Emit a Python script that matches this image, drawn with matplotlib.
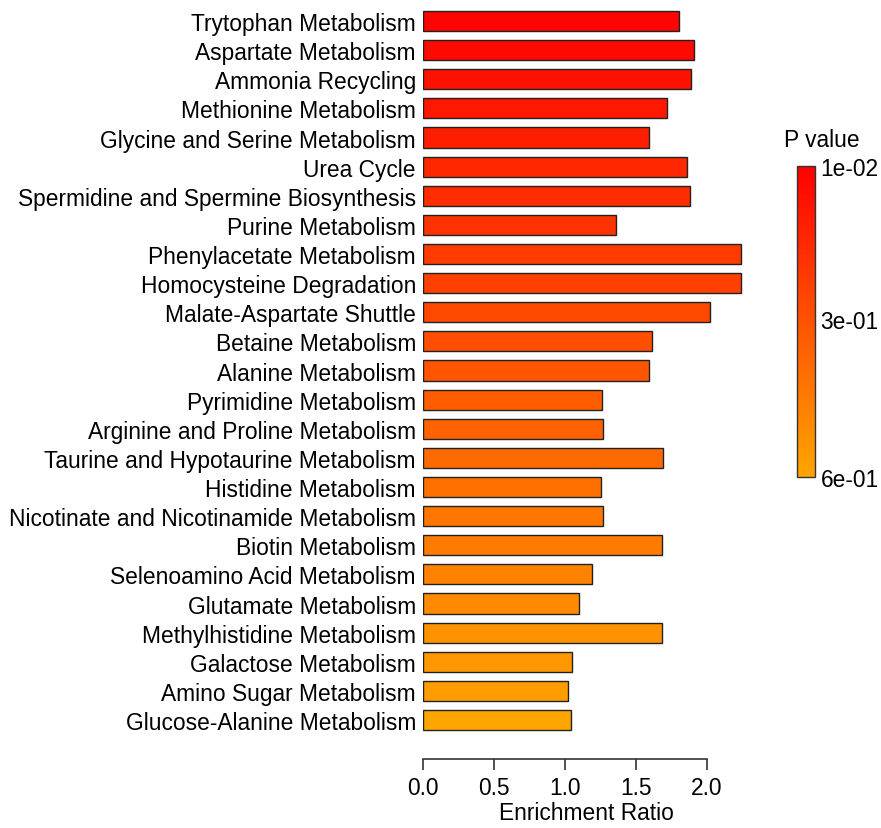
import matplotlib
matplotlib.use("Agg")
import matplotlib.pyplot as plt
from matplotlib.colors import LinearSegmentedColormap, Normalize
from matplotlib.cm import ScalarMappable

plt.rcParams['font.family'] = ['Liberation Sans', 'DejaVu Sans']

pathways = [
    "Trytophan Metabolism", "Aspartate Metabolism", "Ammonia Recycling",
    "Methionine Metabolism", "Glycine and Serine Metabolism", "Urea Cycle",
    "Spermidine and Spermine Biosynthesis", "Purine Metabolism",
    "Phenylacetate Metabolism", "Homocysteine Degradation",
    "Malate-Aspartate Shuttle", "Betaine Metabolism", "Alanine Metabolism",
    "Pyrimidine Metabolism", "Arginine and Proline Metabolism",
    "Taurine and Hypotaurine Metabolism", "Histidine Metabolism",
    "Nicotinate and Nicotinamide Metabolism", "Biotin Metabolism",
    "Selenoamino Acid Metabolism", "Glutamate Metabolism",
    "Methylhistidine Metabolism", "Galactose Metabolism",
    "Amino Sugar Metabolism", "Glucose-Alanine Metabolism",
]
enrichment = [1.80, 1.91, 1.89, 1.72, 1.59, 1.86, 1.88, 1.36, 2.24, 2.24,
              2.02, 1.61, 1.59, 1.26, 1.27, 1.69, 1.25, 1.27, 1.68, 1.19,
              1.10, 1.68, 1.05, 1.02, 1.04]
pvalues = [0.024, 0.046, 0.071, 0.096, 0.12, 0.15, 0.17, 0.19, 0.22,
           0.24, 0.27, 0.29, 0.31, 0.34, 0.36, 0.39, 0.41, 0.43,
           0.45, 0.48, 0.50, 0.53, 0.55, 0.57, 0.60]
cbar_ticks = [0.01, 0.3, 0.6]
cbar_labels = ["1e-02", "3e-01", "6e-01"]

FS = 16.4

cmap = LinearSegmentedColormap.from_list("redorange", ["#FF0000", "#FFA500"])
norm = Normalize(vmin=0.01, vmax=0.6)

fig = plt.figure(figsize=(8.81, 8.29), dpi=100)
ax = fig.add_axes([0.480, 0.0832, 0.371, 0.9078])

ypos = list(range(len(pathways)))
ax.barh(ypos, enrichment, height=0.69, color=cmap(norm(pvalues)),
        edgecolor="#222222", linewidth=1.0)
ax.set_ylim(25.34, -0.5)
ax.set_xlim(0, 2.3)
ax.set_yticks(ypos)
ax.set_yticklabels(pathways, fontsize=FS)
ax.tick_params(axis="y", length=0, pad=5)

ax.set_xticks([0, 0.5, 1.0, 1.5, 2.0])
ax.set_xticklabels(["0.0", "0.5", "1.0", "1.5", "2.0"], fontsize=FS)
ax.tick_params(axis="x", length=8, width=1.2, pad=4, color="#333333")
ax.set_xlabel("Enrichment Ratio", fontsize=FS, labelpad=2)

for s in ["top", "right", "left"]:
    ax.spines[s].set_visible(False)
ax.spines["bottom"].set_bounds(0, 2.0)
ax.spines["bottom"].set_linewidth(1.2)
ax.spines["bottom"].set_color("#333333")

# colour key for the p values
cax = fig.add_axes([0.905, 0.4234, 0.020, 0.375])
sm = ScalarMappable(norm=norm, cmap=cmap)
cb = fig.colorbar(sm, cax=cax)
cax.invert_yaxis()
cb.set_ticks(cbar_ticks)
cb.set_ticklabels(cbar_labels)
cax.tick_params(length=0, labelsize=FS, pad=4)
cb.outline.set_edgecolor("#333333")
cb.outline.set_linewidth(1.0)
fig.text(0.933, 0.831, "P value", fontsize=FS, ha="center", va="center")

plt.savefig("out.png", dpi=100)
